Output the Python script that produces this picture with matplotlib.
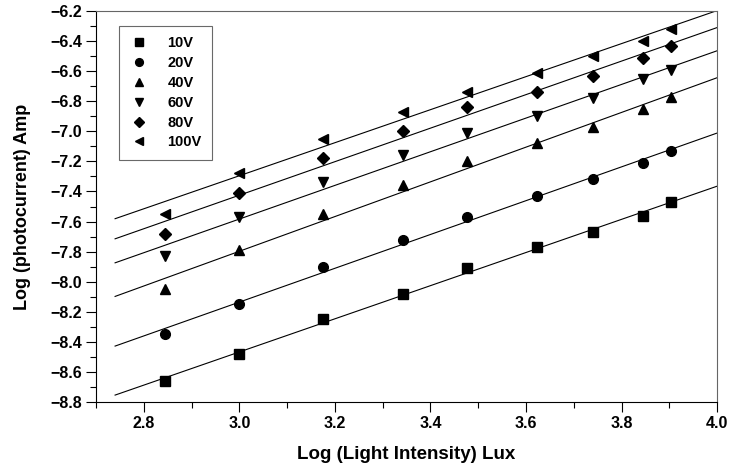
import numpy as np
import matplotlib
matplotlib.use("Agg")
import matplotlib.pyplot as plt
from matplotlib.ticker import MultipleLocator, FuncFormatter

# Log light intensity (x) shared by all series
log_lux = [2.845, 3.000, 3.176, 3.342, 3.477, 3.623, 3.740, 3.845, 3.903]

# Log photocurrent for each bias voltage
v10 = [-8.66, -8.48, -8.25, -8.08, -7.91, -7.77, -7.67, -7.56, -7.47]
v20 = [-8.35, -8.15, -7.90, -7.72, -7.57, -7.43, -7.32, -7.21, -7.13]
v40 = [-8.05, -7.79, -7.55, -7.36, -7.20, -7.08, -6.97, -6.85, -6.77]
v60 = [-7.83, -7.57, -7.34, -7.16, -7.01, -6.90, -6.78, -6.65, -6.59]
v80 = [-7.68, -7.41, -7.18, -7.00, -6.84, -6.74, -6.63, -6.51, -6.43]
v100 = [-7.55, -7.28, -7.05, -6.87, -6.74, -6.61, -6.50, -6.40, -6.32]

labels = ["10V", "20V", "40V", "60V", "80V", "100V"]
markers = ["s", "o", "^", "v", "D", "<"]
series = [v10, v20, v40, v60, v80, v100]

plt.rcParams['font.family'] = ['Liberation Sans', 'DejaVu Sans']
plt.rcParams['font.weight'] = 'bold'

fig = plt.figure(figsize=(7.31, 4.66), dpi=100)
ax = fig.add_axes([0.1313, 0.1373, 0.8497, 0.8391])

x = np.array(log_lux)
x_fit = np.array([2.74, 4.0])
for vals, lab, m in zip(series, labels, markers):
    y = np.array(vals)
    ms = 6 if m == "D" else 7
    ax.plot(x, y, linestyle="none", marker=m, color="black", markersize=ms, label=lab)
    # straight-line fit drawn across the plot
    k, b = np.polyfit(x, y, 1)
    ax.plot(x_fit, k * x_fit + b, color="black", linewidth=0.8)

ax.set_xlim(2.7, 4.0)
ax.set_ylim(-8.8, -6.2)
fmt = FuncFormatter(lambda v, p: f"{v:.1f}".replace("-", "\u2212"))
ax.xaxis.set_major_locator(MultipleLocator(0.2))
ax.xaxis.set_minor_locator(MultipleLocator(0.1))
ax.yaxis.set_major_locator(MultipleLocator(0.2))
ax.yaxis.set_minor_locator(MultipleLocator(0.1))
ax.xaxis.set_major_formatter(fmt)
ax.yaxis.set_major_formatter(fmt)
ax.tick_params(which="major", direction="out", length=7, width=0.8, pad=3)
ax.tick_params(which="minor", direction="out", length=4, width=0.8)
ax.tick_params(axis="x", labelsize=11.5)
ax.tick_params(axis="y", labelsize=11.5)
ax.tick_params(top=False, right=False)

for s in ["top", "right"]:
    ax.spines[s].set_color("#666666")
for s in ["left", "bottom"]:
    ax.spines[s].set_color("black")

ax.set_xlabel("Log (Light Intensity) Lux", fontsize=13.5, fontweight="bold", labelpad=11)
ax.set_ylabel("Log (photocurrent) Amp", fontsize=13, fontweight="bold", labelpad=14)

leg = ax.legend(loc="upper left", bbox_to_anchor=(0.026, 0.98), fontsize=10.5,
                frameon=True, fancybox=False, edgecolor="#444444", handlelength=1.3,
                handletextpad=1.3, labelspacing=0.4, borderpad=0.7, markerscale=0.8)
leg.get_frame().set_linewidth(0.8)
for t in leg.get_texts():
    t.set_fontweight("bold")

fig.savefig("out.png", dpi=100)
